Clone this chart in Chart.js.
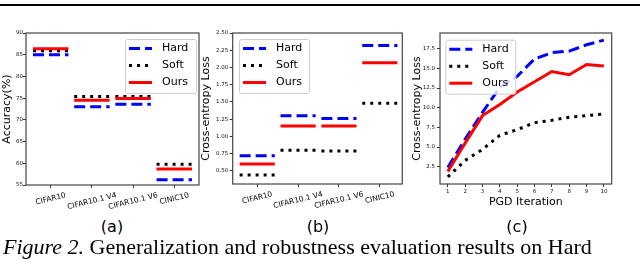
<!DOCTYPE html>
<html>
<head>
<meta charset="utf-8">
<script src="https://cdn.jsdelivr.net/npm/chart.js@4.4.0/dist/chart.umd.min.js"></script>
<style>
  body { margin: 0; background: #fff; }
  #page { position: relative; width: 640px; height: 268px; overflow: hidden; background: #fff; }
  canvas { position: absolute; top: 0; }
  .rule { position: absolute; left: 0; top: 4px; width: 640px; height: 2px; background: #000; }
  .sub { position: absolute; top: 219px; font: 16px 'DejaVu Sans'; line-height: 16px; transform: translateX(-50%); white-space: nowrap; color: #000; }
  .caption { position: absolute; left: 3px; top: 236px; font: 22px 'Liberation Serif'; line-height: 22px; white-space: nowrap; color: #000; }
</style>
</head>
<body>
<div id="page">
  <div class="rule"></div>
  <canvas id="chartA" width="212" height="216" style="left:0px"></canvas>
  <canvas id="chartB" width="215" height="216" style="left:199px"></canvas>
  <canvas id="chartC" width="235" height="216" style="left:405px"></canvas>
  <div class="sub" style="left:112px">(a)</div>
  <div class="sub" style="left:318px">(b)</div>
  <div class="sub" style="left:517px">(c)</div>
  <div class="caption"><i>Figure 2.</i> Generalization and robustness evaluation results on Hard</div>
</div>
<script>
// data
const categories = ['CIFAR10', 'CIFAR10.1 V4', 'CIFAR10.1 V6', 'CINIC10'];
const seriesNames = ['Hard', 'Soft', 'Ours'];

const accHard = [85.0, 73.0, 73.6, 56.2];
const accSoft = [85.9, 75.4, 75.4, 59.8];
const accOurs = [86.4, 74.5, 74.9, 58.7];
const accTicks = [55, 60, 65, 70, 75, 80, 85, 90];

const lossHard = [0.72, 1.30, 1.26, 2.32];
const lossSoft = [0.44, 0.80, 0.79, 1.48];
const lossOurs = [0.60, 1.15, 1.15, 2.07];
const lossTicks = [0.50, 0.75, 1.00, 1.25, 1.50, 1.75, 2.00, 2.25, 2.50];

const pgdIters = [1, 2, 3, 4, 5, 6, 7, 8, 9, 10];
const pgdHard = [2.4, 6.0, 9.4, 12.6, 14.0, 16.2, 17.0, 17.2, 18.0, 18.6];
const pgdSoft = [1.2, 3.3, 4.7, 6.5, 7.2, 8.1, 8.4, 8.8, 9.0, 9.2];
const pgdOurs = [1.9, 5.5, 9.0, 10.4, 12.0, 13.3, 14.6, 14.2, 15.5, 15.3];
const pgdTicks = [2.5, 5.0, 7.5, 10.0, 12.5, 15.0, 17.5];

const FONT = 'DejaVu Sans';
const TICK_FONT = { family: FONT, size: 5.5 };
const TITLE_FONT = { family: FONT, size: 11 };

const styles = [
    { borderColor: '#0000ff', borderDash: [11, 5], order: 2 },
    { borderColor: '#000000', borderDash: [3, 5], order: 1 },
    { borderColor: '#ff0000', borderDash: [], order: 0 }
];

// short horizontal bar per category, null point breaks the line
function segments(values) {
    const pts = [];
    values.forEach((v, i) => {
        pts.push({ x: i - 0.43, y: v }, { x: i + 0.43, y: v }, { x: i + 0.5, y: null });
    });
    return pts;
}

function makeDatasets(list) {
    return list.map((data, i) => ({
        label: seriesNames[i],
        data: data,
        borderColor: styles[i].borderColor,
        borderDash: styles[i].borderDash,
        order: styles[i].order,
        borderWidth: 3,
        borderCapStyle: 'butt',
        pointRadius: 0,
        fill: false,
        tension: 0,
        spanGaps: false
    }));
}

const framePlugin = {
    id: 'frame',
    afterDatasetsDraw(chart) {
        const { ctx, chartArea: a } = chart;
        ctx.save();
        ctx.strokeStyle = '#444';
        ctx.lineWidth = 1.2;
        ctx.strokeRect(a.left, a.top, a.right - a.left, a.bottom - a.top);
        ctx.restore();
    }
};

const boxLegendPlugin = {
    id: 'boxLegend',
    afterDraw(chart, args, opts) {
        const { ctx } = chart;
        const { x, y, w, h } = opts;
        ctx.save();
        ctx.beginPath();
        ctx.roundRect(x + 0.5, y + 0.5, w, h, 2);
        ctx.fillStyle = 'rgba(255,255,255,0.8)';
        ctx.fill();
        ctx.strokeStyle = '#cccccc';
        ctx.lineWidth = 1;
        ctx.stroke();
        chart.data.datasets.forEach((ds, i) => {
            const cy = y + 9.5 + i * 17;
            ctx.beginPath();
            ctx.setLineDash(ds.borderDash);
            ctx.lineCap = 'butt';
            ctx.strokeStyle = ds.borderColor;
            ctx.lineWidth = ds.borderWidth;
            ctx.moveTo(x + 4, cy);
            ctx.lineTo(x + 27, cy);
            ctx.stroke();
            ctx.setLineDash([]);
            ctx.fillStyle = '#000';
            ctx.font = `11px ${FONT}`;
            ctx.textBaseline = 'middle';
            ctx.textAlign = 'left';
            ctx.fillText(ds.label, x + 37, cy);
        });
        ctx.restore();
    }
};

// rotated category labels, centred on their tick like matplotlib
const catLabelPlugin = {
    id: 'catLabels',
    afterDraw(chart, args, opts) {
        if (!opts.labels) return;
        const { ctx, chartArea } = chart;
        const xScale = chart.scales.x;
        const angle = opts.angle * Math.PI / 180;
        ctx.save();
        ctx.font = `${opts.size}px ${FONT}`;
        ctx.fillStyle = '#000';
        ctx.textAlign = 'center';
        ctx.textBaseline = 'middle';
        opts.labels.forEach((label, i) => {
            const w = ctx.measureText(label).width;
            const boxH = w * Math.sin(angle) + opts.size * 1.15 * Math.cos(angle);
            const px = xScale.getPixelForValue(i);
            const cy = chartArea.bottom + opts.gap + boxH / 2;
            ctx.save();
            ctx.translate(px, cy);
            ctx.rotate(-angle);
            ctx.fillText(label, 0, 0);
            ctx.restore();
        });
        ctx.restore();
    }
};

function makeOptions(cfg) {
    const gridOpts = { drawOnChartArea: false, drawTicks: true, tickLength: 3, color: '#333', lineWidth: 1 };
    return {
        responsive: false,
        animation: false,
        layout: { padding: { left: 0, top: 33, right: cfg.padRight, bottom: 0 } },
        plugins: {
            legend: { display: false },
            tooltip: { enabled: false },
            boxLegend: cfg.legend,
            catLabels: cfg.catLabels || {}
        },
        scales: {
            x: {
                type: 'linear',
                min: cfg.xMin,
                max: cfg.xMax,
                afterBuildTicks: s => { s.ticks = cfg.xTicks.map(v => ({ value: v })); },
                afterFit: s => { s.height = cfg.xHeight; },
                grid: gridOpts,
                border: { display: false },
                ticks: {
                    display: !!cfg.xTickLabels,
                    autoSkip: false,
                    maxRotation: 0,
                    font: TICK_FONT,
                    color: '#111',
                    padding: 1,
                    callback: v => String(v)
                },
                title: cfg.xTitle
                    ? { display: true, text: cfg.xTitle, font: TITLE_FONT, color: '#000', padding: { top: 0, bottom: cfg.xTitlePad } }
                    : { display: false }
            },
            y: {
                min: cfg.yMin,
                max: cfg.yMax,
                afterBuildTicks: s => { s.ticks = cfg.yTicks.map(v => ({ value: v })); },
                afterFit: s => { s.width = cfg.yWidth; },
                grid: gridOpts,
                border: { display: false },
                ticks: {
                    autoSkip: false,
                    font: TICK_FONT,
                    color: '#111',
                    padding: cfg.yTickPad,
                    callback: v => v.toFixed(cfg.yDecimals)
                },
                title: { display: true, text: cfg.yTitle, font: TITLE_FONT, color: '#000', padding: { top: cfg.yTitlePad, bottom: 0 } }
            }
        }
    };
}

const plugins = [framePlugin, boxLegendPlugin, catLabelPlugin];

// (a) accuracy
new Chart(document.getElementById('chartA'), {
    type: 'line',
    data: { datasets: makeDatasets([segments(accHard), segments(accSoft), segments(accOurs)]) },
    options: makeOptions({
        padRight: 13, xHeight: 31, yWidth: 26,
        xMin: -0.6, xMax: 3.6, xTicks: [0, 1, 2, 3],
        yMin: 55, yMax: 90, yTicks: accTicks, yDecimals: 0, yTickPad: 0,
        yTitle: 'Accuracy(%)', yTitlePad: 1,
        legend: { x: 125, y: 39, w: 71, h: 54 },
        catLabels: { labels: categories, angle: 14, size: 7.5, gap: 6 }
    }),
    plugins: plugins
});

// (b) loss per dataset
new Chart(document.getElementById('chartB'), {
    type: 'line',
    data: { datasets: makeDatasets([segments(lossHard), segments(lossSoft), segments(lossOurs)]) },
    options: makeOptions({
        padRight: 11.7, xHeight: 32, yWidth: 33.7,
        xMin: -0.6, xMax: 3.55, xTicks: [0, 1, 2, 3],
        yMin: 0.31, yMax: 2.5, yTicks: lossTicks, yDecimals: 2, yTickPad: 1.4,
        yTitle: 'Cross-entropy Loss', yTitlePad: 1,
        legend: { x: 40, y: 39, w: 70, h: 54 },
        catLabels: { labels: categories, angle: 14, size: 7.5, gap: 6 }
    }),
    plugins: plugins
});

// (c) loss vs PGD iteration
const toPoints = vals => vals.map((v, i) => ({ x: pgdIters[i], y: v }));
new Chart(document.getElementById('chartC'), {
    type: 'line',
    data: { datasets: makeDatasets([toPoints(pgdHard), toPoints(pgdSoft), toPoints(pgdOurs)]) },
    options: makeOptions({
        padRight: 28.3, xHeight: 32, yWidth: 35,
        xMin: 0.55, xMax: 10.45, xTicks: pgdIters, xTickLabels: true,
        xTitle: 'PGD Iteration', xTitlePad: 7.7,
        yMin: 0.3, yMax: 19.5, yTicks: pgdTicks, yDecimals: 1, yTickPad: 2,
        yTitle: 'Cross-entropy Loss', yTitlePad: 5.1,
        legend: { x: 40.3, y: 39.7, w: 70, h: 54 }
    }),
    plugins: plugins
});
</script>
</body>
</html>
